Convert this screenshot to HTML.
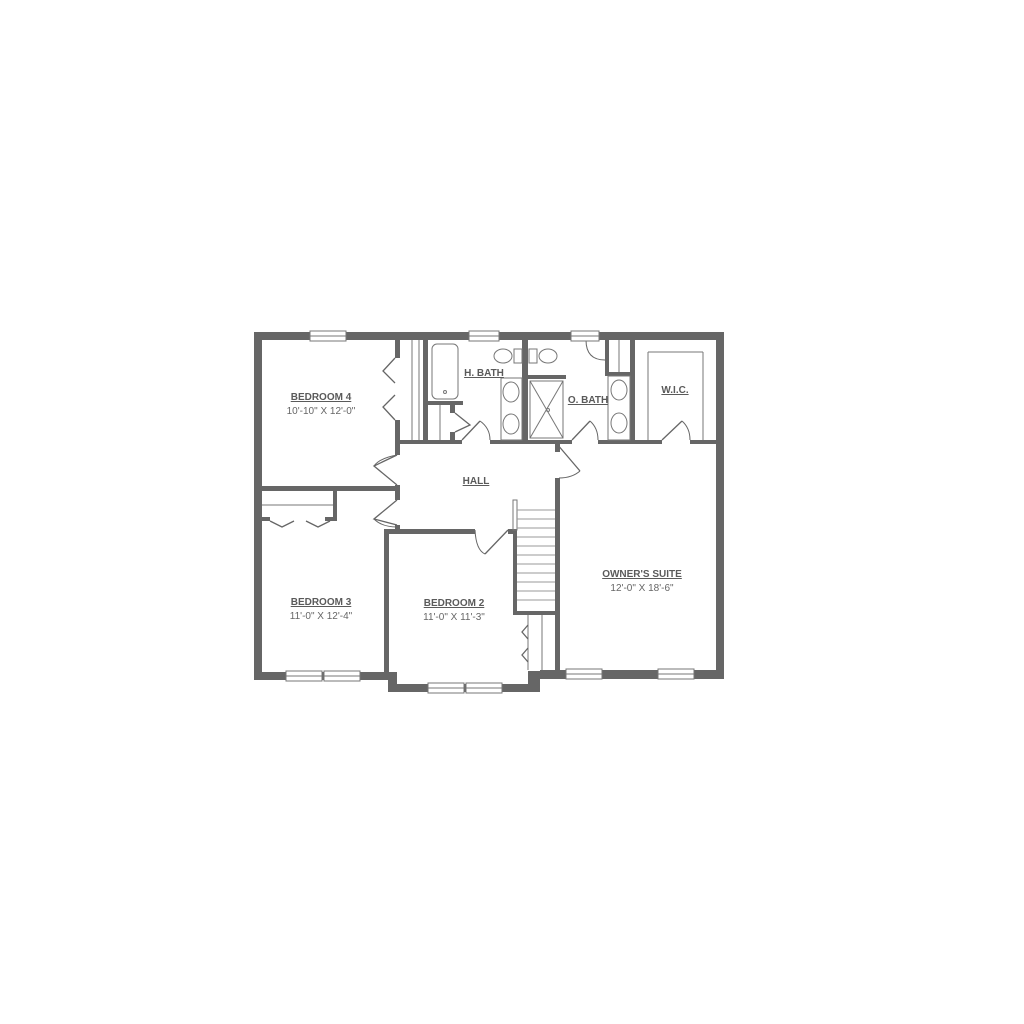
<!DOCTYPE html>
<html><head><meta charset="utf-8"><style>
html,body{margin:0;padding:0;background:#fff;}
svg{display:block;}
text{font-family:"Liberation Sans",sans-serif;fill:#5a5a5a;text-anchor:middle;}
.t{font-weight:bold;font-size:10px;text-decoration:underline;}
.d{font-size:10px;fill:#666;}
</style></head><body>
<svg width="1024" height="1024" viewBox="0 0 1024 1024" xmlns="http://www.w3.org/2000/svg">
<g fill="#666">
<!-- outer walls -->
<rect x="254" y="332" width="470" height="8"/>
<rect x="254" y="332" width="8" height="348"/>
<rect x="716" y="332" width="8" height="347"/>
<rect x="254" y="672" width="143" height="8"/>
<rect x="388" y="672" width="9" height="20"/>
<rect x="388" y="684" width="152" height="8"/>
<rect x="528" y="671" width="12" height="21"/>
<rect x="540" y="670" width="184" height="9"/>
<!-- bedroom 2 left wall -->
<rect x="384" y="530" width="5" height="144"/>
<!-- bedroom4 right wall -->
<rect x="395" y="340" width="5" height="18"/>
<rect x="395" y="420" width="5" height="35"/>
<rect x="395" y="485" width="5" height="15"/>
<rect x="395" y="525" width="5" height="9"/>
<!-- bedroom4 bottom -->
<rect x="262" y="486" width="138" height="5"/>
<!-- bed3 closet -->
<rect x="333" y="491" width="4" height="30"/>
<rect x="262" y="517" width="8" height="4"/>
<rect x="325" y="517" width="12" height="4"/>
<!-- hall bottom / bed2 top -->
<rect x="384" y="529" width="91" height="5"/>
<rect x="508" y="529" width="9" height="5"/>
<rect x="513" y="529" width="4" height="86"/>
<rect x="513" y="611" width="47" height="4"/>
<!-- owner's left wall -->
<rect x="555" y="478" width="5" height="194"/>
<rect x="555" y="440" width="5" height="12"/>
<!-- closets under bedroom4/hall -->
<rect x="423" y="340" width="5" height="104"/>
<rect x="395" y="440" width="67" height="4"/>
<rect x="428" y="401" width="35" height="4"/>
<rect x="450" y="401" width="5" height="12"/>
<rect x="450" y="432" width="5" height="8"/>
<rect x="490" y="440" width="82" height="4"/>
<rect x="522" y="340" width="6" height="104"/>
<rect x="528" y="375" width="38" height="4"/>
<rect x="598" y="440" width="64" height="4"/>
<rect x="690" y="440" width="26" height="4"/>
<rect x="630" y="340" width="5" height="104"/>
<rect x="605" y="340" width="4" height="36"/>
<rect x="605" y="372" width="30" height="4"/>
</g>
<g fill="none" stroke="#777" stroke-width="1">
<!-- closet lines -->
<line x1="412" y1="340" x2="412" y2="440"/>
<line x1="419" y1="340" x2="419" y2="440"/>
<line x1="440" y1="405" x2="440" y2="440"/>
<line x1="262" y1="505" x2="333" y2="505"/>
<line x1="542" y1="615" x2="542" y2="670"/>
<line x1="528" y1="615" x2="528" y2="670"/>
<!-- tub -->
<rect x="432" y="344" width="26" height="55" rx="5"/>
<circle cx="445" cy="392" r="1.5"/>
<!-- h bath vanity -->
<rect x="501" y="378" width="21" height="62"/>
<ellipse cx="511" cy="392" rx="8" ry="10"/>
<ellipse cx="511" cy="424" rx="8" ry="10"/>
<!-- toilets -->
<ellipse cx="503" cy="356" rx="9" ry="7"/>
<rect x="514" y="349" width="8" height="14"/>
<ellipse cx="548" cy="356" rx="9" ry="7"/>
<rect x="529" y="349" width="8" height="14"/>
<!-- shower -->
<rect x="530" y="381" width="33" height="57"/>
<line x1="530" y1="381" x2="563" y2="438"/>
<line x1="563" y1="381" x2="530" y2="438"/>
<circle cx="548" cy="410" r="1.5"/>
<!-- o bath vanity -->
<rect x="608" y="376" width="22" height="64"/>
<ellipse cx="619" cy="390" rx="8" ry="10"/>
<ellipse cx="619" cy="423" rx="8" ry="10"/>
<line x1="619" y1="340" x2="619" y2="372"/>
<!-- wic shelving -->
<line x1="648" y1="352" x2="703" y2="352"/>
<line x1="648" y1="352" x2="648" y2="440"/>
<line x1="703" y1="352" x2="703" y2="440"/>
<!-- stairs -->
<rect x="513" y="500" width="4" height="30"/>
</g>
<g stroke="#999" stroke-width="1">
<line x1="517" y1="510" x2="555" y2="510"/><line x1="517" y1="519" x2="555" y2="519"/>
<line x1="517" y1="528" x2="555" y2="528"/><line x1="517" y1="537" x2="555" y2="537"/>
<line x1="517" y1="546" x2="555" y2="546"/><line x1="517" y1="555" x2="555" y2="555"/>
<line x1="517" y1="564" x2="555" y2="564"/><line x1="517" y1="573" x2="555" y2="573"/>
<line x1="517" y1="582" x2="555" y2="582"/><line x1="517" y1="591" x2="555" y2="591"/>
<line x1="517" y1="600" x2="555" y2="600"/>
</g>
<!-- doors -->
<g fill="none" stroke="#666" stroke-width="1.3">
<path d="M395 358 L383 371 L395 383 M395 395 L383 407 L395 420"/>
<path d="M270 521 L282 527 L294 521 M306 521 L318 527 L330 521"/>
<path d="M528 625 L522 632 L528 639 M528 648 L522 655 L528 662"/>
<path d="M397 455 L374 466 L397 485"/>
<path d="M374 466 Q380 458 397 455" stroke-width="1"/>
<path d="M397 500 L374 519 L397 525"/>
<path d="M374 519 Q382 527 397 527" stroke-width="1"/>
<path d="M508 530 L485 554"/><path d="M475 530 Q476 550 485 554" stroke-width="1"/>
<path d="M462 440 L480 421"/><path d="M480 421 Q490 428 490 440" stroke-width="1"/>
<path d="M572 440 L590 421"/><path d="M590 421 Q598 428 598 440" stroke-width="1"/>
<path d="M662 440 L682 421"/><path d="M682 421 Q690 428 690 440" stroke-width="1"/>
<path d="M557 444 L580 471"/><path d="M580 471 Q572 478 559 478" stroke-width="1"/>
<path d="M455 413 L470 425 L455 432"/>
<path d="M586 340 Q586 360 605 360" stroke-width="1"/>
</g>
<!-- windows -->
<g fill="#fff" stroke="#777" stroke-width="1">
<rect x="310" y="331" width="36" height="10"/><line x1="310" y1="336" x2="346" y2="336"/>
<rect x="469" y="331" width="30" height="10"/><line x1="469" y1="336" x2="499" y2="336"/>
<rect x="571" y="331" width="28" height="10"/><line x1="571" y1="336" x2="599" y2="336"/>
<rect x="286" y="671" width="36" height="10"/><line x1="286" y1="676" x2="322" y2="676"/>
<rect x="324" y="671" width="36" height="10"/><line x1="324" y1="676" x2="360" y2="676"/>
<rect x="428" y="683" width="36" height="10"/><line x1="428" y1="688" x2="464" y2="688"/>
<rect x="466" y="683" width="36" height="10"/><line x1="466" y1="688" x2="502" y2="688"/>
<rect x="566" y="669" width="36" height="10"/><line x1="566" y1="674" x2="602" y2="674"/>
<rect x="658" y="669" width="36" height="10"/><line x1="658" y1="674" x2="694" y2="674"/>
</g>
<!-- labels -->
<text class="t" x="321" y="400">BEDROOM 4</text>
<text class="d" x="321" y="414">10'-10" X 12'-0"</text>
<text class="t" x="476" y="484">HALL</text>
<text class="t" x="484" y="376">H. BATH</text>
<text class="t" x="588" y="403">O. BATH</text>
<text class="t" x="675" y="393">W.I.C.</text>
<text class="t" x="642" y="577">OWNER'S SUITE</text>
<text class="d" x="642" y="591">12'-0" X 18'-6"</text>
<text class="t" x="321" y="605">BEDROOM 3</text>
<text class="d" x="321" y="619">11'-0" X 12'-4"</text>
<text class="t" x="454" y="606">BEDROOM 2</text>
<text class="d" x="454" y="620">11'-0" X 11'-3"</text>
</svg>
</body></html>
